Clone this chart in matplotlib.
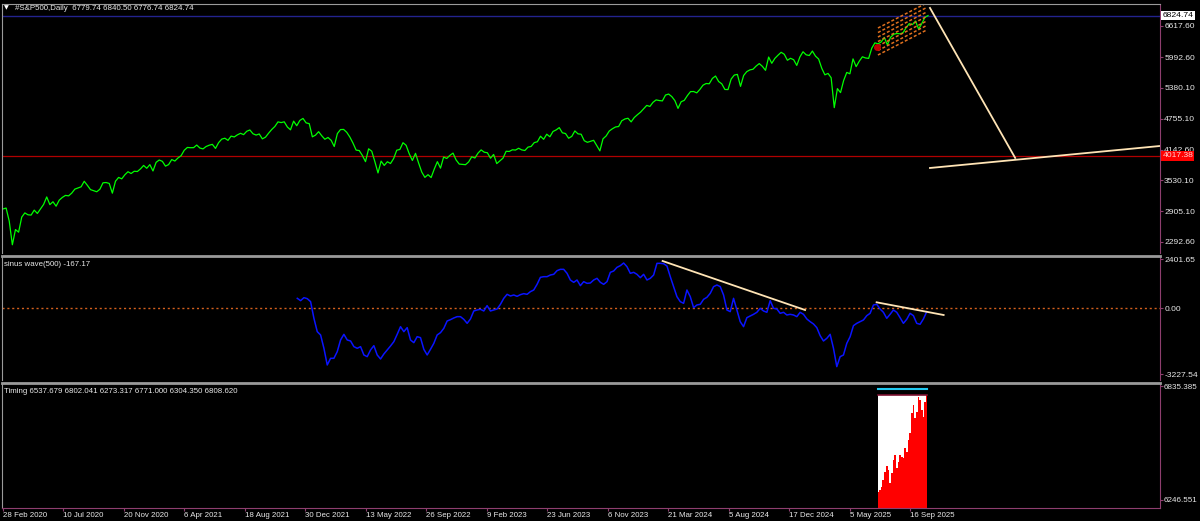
import numpy as np
import matplotlib
matplotlib.use("Agg")
import matplotlib.pyplot as plt
import matplotlib.transforms as mtransforms

plt.rcParams['font.family'] = ['Liberation Sans', 'DejaVu Sans']

# weekly closes of #S&P500 (Feb 2020 .. Oct 2025)
close_2020 = [2954, 2972, 2711, 2237, 2541, 2489, 2790, 2875, 2837, 2831, 2930, 2864, 2955, 3044, 3194,
              3041, 3098, 3009, 3130, 3185, 3225, 3216, 3271, 3351, 3373, 3397, 3508, 3427, 3341, 3319,
              3298, 3348, 3477, 3483, 3465, 3270, 3509, 3585, 3557, 3638, 3699, 3663, 3709, 3703, 3756]
close_2021 = [3825, 3768, 3841, 3714, 3887, 3934, 3907, 3811, 3842, 3943, 3913, 3975, 4020, 4129, 4185,
              4180, 4181, 4233, 4174, 4156, 4204, 4230, 4247, 4166, 4281, 4352, 4370, 4327, 4412, 4395,
              4437, 4468, 4442, 4509, 4535, 4459, 4433, 4455, 4357, 4391, 4471, 4545, 4605, 4697, 4683,
              4698, 4595, 4538, 4712, 4620, 4726, 4766]
close_2022 = [4677, 4662, 4398, 4432, 4501, 4419, 4349, 4385, 4329, 4204, 4463, 4543, 4546, 4488, 4393,
              4272, 4132, 4123, 4024, 3901, 4158, 4109, 3901, 3675, 3912, 3825, 3899, 3863, 3962, 4130,
              4145, 4280, 4228, 4058, 3924, 4067, 3873, 3693, 3586, 3640, 3583, 3752, 3901, 3771, 3993,
              3965, 4026, 4072, 3934, 3852, 3845, 3840]
close_2023 = [3895, 3999, 3973, 4071, 4136, 4090, 4079, 3970, 4045, 3862, 3917, 3971, 4109, 4105, 4138,
              4133, 4169, 4136, 4124, 4192, 4205, 4282, 4299, 4410, 4348, 4450, 4399, 4505, 4536, 4582,
              4478, 4464, 4370, 4406, 4516, 4457, 4450, 4320, 4288, 4308, 4328, 4224, 4117, 4358, 4415,
              4514, 4559, 4595, 4604, 4719, 4755, 4770]
close_2024 = [4697, 4784, 4840, 4891, 4959, 5027, 5006, 5089, 5137, 5124, 5117, 5234, 5254, 5204, 5123,
              4967, 5100, 5128, 5223, 5303, 5305, 5278, 5347, 5432, 5465, 5460, 5567, 5615, 5505, 5459,
              5346, 5344, 5554, 5634, 5648, 5408, 5626, 5703, 5738, 5751, 5815, 5864, 5808, 5729, 5995,
              5870, 5969, 6032, 6090, 6051, 5931, 5970]
close_2025 = [5942, 5827, 5997, 6101, 6040, 6026, 6115, 6013, 5955, 5770, 5639, 5667, 5581, 4982, 5363,
              5283, 5525, 5687, 5660, 5958, 5803, 5912, 6000, 5977, 5968, 6173, 6279, 6260, 6297, 6389,
              6238, 6389, 6450, 6467, 6460, 6482, 6584, 6664, 6644, 6716, 6553, 6664, 6791, 6825]
last_bar = 1422

# sinus wave(500) indicator, sampled every ~5 bars from bar 452
sinus_a = [489, 375, 522, 473, 326, -491, -1144, -1307, -1960, -2777, -2450, -2450, -2124, -1552, -1275,
           -1552, -1601, -1879, -1960, -1879, -2287, -2369, -2042, -1830, -2287, -2483, -2238, -2042, -1846,
           -1634, -1275, -899, -1144, -948, -1552, -1683, -1389, -1438, -2009, -2287, -2009, -1716, -1307,
           -1193, -981, -621, -556, -474, -409, -409, -540, -736, -523, -131, -82, -49, -131, 131, -131,
           -82, -33, 196, 489, 685, 604, 652, 587, 669, 718, 685, 816, 897, 1175, 1518, 1550, 1550, 1632,
           1665, 1845, 1910, 1910, 1714, 1387, 1273, 1387, 1110, 1306, 1224, 1240, 1387, 1469, 1273, 1175,
           1306, 1763, 1828, 2008, 2089, 2220, 2040, 1714]
sinus_b = [1763, 1665, 1501, 1665, 1387, 1469, 1632, 2204, 2204, 2187, 2073, 1550, 1061, 571, 326, 244,
           897, 571, 33, 163, 196, 440, 538, 734, 1061, 1142, 1061, 652, -82, -164, 489, -82, -654, -899,
           -458, -376, -295, -196, 0, -131, -196, 375, 0, -33, -246, -196, -327, -295, -327, -409, -196,
           -295, -523, -654, -768, -948, -1340, -1601, -1471, -1275, -1960, -2858, -2369, -2287, -1716,
           -1389, -850, -736, -654, -572, -360, -246, 163, 196, -33, -196, -491, -295, -82, -196, -458,
           -736, -540, -246, -360, -736, -784, -523, -167]
sinus_start, sinus_end = 452.4, 1420

# Timing indicator histogram (last ~75 bars)
timing_vals = [6290, 6298, 6315, 6350, 6393, 6422, 6402, 6333, 6384, 6453, 6479, 6410, 6445, 6479, 6470,
               6462, 6513, 6496, 6556, 6591, 6694, 6737, 6668, 6703, 6780, 6763, 6711, 6677, 6754, 6789]
timing_start, timing_end = 1345.6, 1420
timing_upper = 6818
timing_mid = 6789
timing_base = 6226

# horizontal levels
bid_level = 6824.74
red_level = 4017.38

# hand drawn trend lines (bar, value)
proj_down_x = [1425, 1556]
proj_down_y = [6978, 3975]
proj_up_x = [1425, 1779]
proj_up_y = [3774, 4215]
sw_trend1_x = [1014, 1233]
sw_trend1_y = [2318, -83]
sw_trend2_x = [1343, 1446]
sw_trend2_y = [294, -328]
# regression channel: centre line and offsets
chan_x = [1345, 1420]
chan_y = [6306, 6807]
chan_offsets = [-270, -180, -90, 0, 90, 180, 270]

price_ticks = [6617.60, 5992.60, 5380.10, 4755.10, 4142.60, 3530.10, 2905.10, 2292.60]
sinus_ticks = [2401.65, 0.00, -3227.54]
timing_ticks = [6835.385, 6246.551]
date_labels = ['28 Feb 2020', '10 Jul 2020', '20 Nov 2020', '6 Apr 2021', '18 Aug 2021', '30 Dec 2021',
               '13 May 2022', '26 Sep 2022', '9 Feb 2023', '23 Jun 2023', '6 Nov 2023', '21 Mar 2024',
               '5 Aug 2024', '17 Dec 2024', '5 May 2025', '16 Sep 2025']
bars_per_label = 93

TXT = '#E8E8E8'
GRID = '#9A9A9A'
AXISC = '#8E3E6E'
CREAM = '#FFE4B5'
FS = 6.1      # price scale labels
FS_HEAD = 5.7  # window titles and dates

closes = np.array(close_2020 + close_2021 + close_2022 + close_2023 + close_2024 + close_2025)
xb = np.linspace(0, last_bar, len(closes))
sinus = np.array(sinus_a + sinus_b)
xs = np.linspace(sinus_start, sinus_end, len(sinus))
timing = np.array(timing_vals)
xt = np.linspace(timing_start, timing_end, len(timing))

fig = plt.figure(figsize=(12, 5.21), dpi=100, facecolor='black')
W, H = 1200, 521
ax1 = fig.add_axes([2 / W, 1 - 253 / H, 1158 / W, 249 / H])
ax2 = fig.add_axes([2 / W, 1 - 380 / H, 1158 / W, 124 / H])
ax3 = fig.add_axes([2 / W, 1 - 508 / H, 1158 / W, 125 / H])

for ax in (ax1, ax2, ax3):
    ax.set_facecolor('black')
    ax.set_xlim(-1.5, 1778.6)
    ax.yaxis.tick_right()
    ax.tick_params(axis='y', colors=AXISC, labelcolor=TXT, labelsize=FS, length=2, width=0.8, pad=1)
    ax.spines['left'].set_color(GRID)
    ax.spines['right'].set_color(AXISC)
    ax.spines['top'].set_color(GRID)
    ax.spines['bottom'].set_visible(False)
    ax.set_xticks([])

ax2.spines['top'].set_linewidth(2)
ax3.spines['top'].set_linewidth(2)
ax3.spines['bottom'].set_visible(True)
ax3.spines['bottom'].set_color(AXISC)

# main price window
ax1.set_ylim(2072, 7057)
ax1.axhline(bid_level, color='#23238E', lw=1)
ax1.axhline(red_level, color='#B00000', lw=0.9)
ax1.plot(xb, closes, color='#00FF00', lw=0.9)
for off in chan_offsets:
    ax1.plot(chan_x, [chan_y[0] + off, chan_y[1] + off], color='#E0701E', lw=1.1,
             linestyle=(0, (2, 1.3)))
ax1.plot([chan_x[0] - 2], [chan_y[0] - 105], 'o', color='#C00000', ms=4)
ax1.plot(proj_down_x, proj_down_y, color=CREAM, lw=1.3)
ax1.plot(proj_up_x, proj_up_y, color=CREAM, lw=1.3)
ax1.set_yticks(price_ticks)
ax1.set_yticklabels(['%.2f' % v for v in price_ticks])
tr1 = mtransforms.blended_transform_factory(ax1.transAxes, ax1.transData)
ax1.text(1.002, bid_level, '%.2f' % bid_level, transform=tr1, fontsize=FS, color='black', va='center',
         ha='left', zorder=10, bbox=dict(boxstyle='square,pad=0.15', fc='white', ec='none'))
ax1.text(1.002, red_level, '%.2f' % red_level, transform=tr1, fontsize=FS, color='#FFD0D0', va='center',
         ha='left', zorder=10, bbox=dict(boxstyle='square,pad=0.15', fc='#FF0000', ec='none'))
ax1.text(0.002, 0.983, '\u25bc', transform=ax1.transAxes, fontsize=4.5, color='white', va='center',
         family='DejaVu Sans')
ax1.text(0.011, 0.983, '#S&P500,Daily  6779.74 6840.50 6776.74 6824.74', transform=ax1.transAxes,
         fontsize=FS_HEAD, color=TXT, va='center')

# sinus wave window
ax2.set_ylim(-3513, 2563)
ax2.axhline(0, color='#D2601E', lw=1, linestyle=(0, (1.5, 2)))
ax2.plot(xs, sinus, color='#0A14FF', lw=1.1)
ax2.plot(sw_trend1_x, sw_trend1_y, color=CREAM, lw=1.3)
ax2.plot(sw_trend2_x, sw_trend2_y, color=CREAM, lw=1.3)
ax2.set_yticks(sinus_ticks)
ax2.set_yticklabels(['%.2f' % v for v in sinus_ticks])
ax2.text(0.002, 0.93, 'sinus wave(500) -167.17', transform=ax2.transAxes, fontsize=FS_HEAD, color=TXT,
         va='center')

# timing window
ax3.set_ylim(6205, 6851)
ax3.fill_between([timing_start, timing_end], timing_base - 30, timing_mid, color='white', lw=0)
ax3.fill_between(xt, timing_base - 30, timing, step='mid', color='#FF0000', lw=0)
ax3.plot([timing_start, timing_end], [timing_mid, timing_mid], color='#7A1030', lw=1.2)
ax3.plot([timing_start, timing_end], [timing_upper, timing_upper], color='#20C8F0', lw=1.5)
ax3.plot([timing_start, timing_end], [timing_base - 30, timing_base - 30], color='#E07020', lw=1.2)
ax3.set_yticks(timing_ticks)
ax3.set_yticklabels(['%.3f' % v for v in timing_ticks])
ax3.tick_params(axis='y', labelsize=FS - 0.3, pad=0.5)
ax3.text(0.002, 0.93, 'Timing 6537.679 6802.041 6273.317 6771.000 6304.350 6808.620',
         transform=ax3.transAxes, fontsize=FS_HEAD, color=TXT, va='center')

xt_pos = [i * bars_per_label for i in range(len(date_labels))]
ax3.set_xticks(xt_pos)
ax3.set_xticklabels(date_labels)
ax3.tick_params(axis='x', colors=AXISC, labelcolor=TXT, labelsize=FS_HEAD, length=2, width=0.8, pad=1)
for lab in ax3.get_xticklabels():
    lab.set_horizontalalignment('left')

fig.savefig('out.png', dpi=100, facecolor='black')
